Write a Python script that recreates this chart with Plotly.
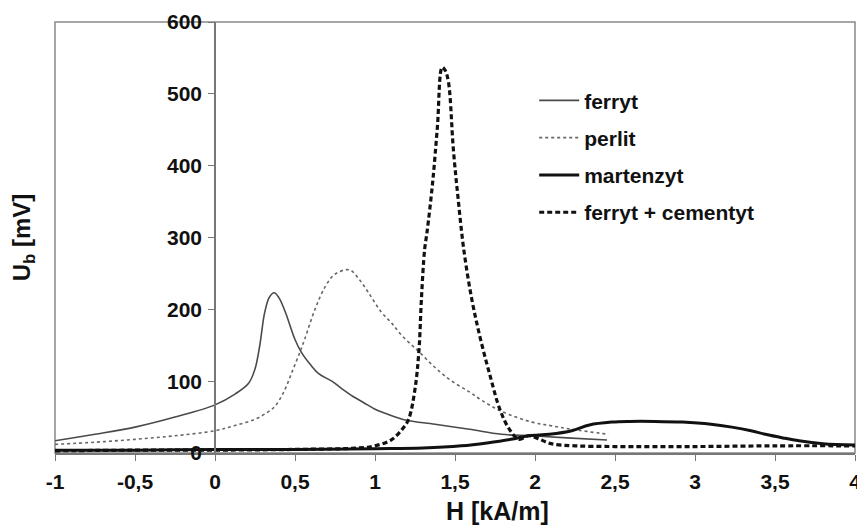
import plotly.graph_objects as go

# ---- data ----
x_ticks = [-1, -0.5, 0, 0.5, 1, 1.5, 2, 2.5, 3, 3.5, 4]
x_tick_labels = ["-1", "-0,5", "0", "0,5", "1", "1,5", "2", "2,5", "3", "3,5", "4"]
y_ticks = [0, 100, 200, 300, 400, 500, 600]

ferryt_x = [-1, -0.75, -0.5, -0.25, 0, 0.125, 0.21, 0.25, 0.28, 0.31, 0.34, 0.37, 0.4,
            0.44, 0.5, 0.54, 0.6, 0.65, 0.73, 0.79, 0.86, 0.93, 1.0, 1.08, 1.17, 1.21,
            1.375, 1.59, 1.79, 1.98, 2.2, 2.45]
ferryt_y = [17, 26, 36, 50, 67, 82, 97, 117, 150, 195, 217, 223, 216,
            196, 158, 140, 122, 110, 100, 90, 79, 70, 61, 54, 47, 45,
            40, 33, 26, 24, 21, 18]

perlit_x = [-1, -0.75, -0.5, -0.25, 0, 0.12, 0.25, 0.33, 0.375, 0.43, 0.48, 0.53, 0.56,
            0.625, 0.69, 0.75, 0.84, 0.9, 0.96, 1.04, 1.1, 1.17, 1.27, 1.375, 1.48,
            1.59, 1.67, 1.79, 1.98, 2.1, 2.23, 2.46]
perlit_y = [12, 15, 19, 24, 31, 38, 47, 57, 65, 85, 112, 140, 158,
            200, 232, 249, 255, 242, 223, 196, 182, 163, 142, 119, 100,
            85, 73, 58, 43, 38, 33, 26]

martenzyt_x = [-1, -0.5, 0, 0.5, 1.0, 1.3, 1.54, 1.7, 1.85, 1.96, 2.09, 2.23, 2.34,
               2.48, 2.59, 2.75, 2.92, 3.1, 3.23, 3.35, 3.44, 3.55, 3.65, 3.8, 4.0]
martenzyt_y = [4, 4, 5, 5, 6, 7, 10, 14, 19, 24, 26, 31, 39,
               43, 44, 44, 43, 40, 36, 31, 26, 21, 17, 13, 11]

fc_x = [-1, -0.5, 0, 0.5, 0.9, 1.0, 1.1, 1.17, 1.21, 1.25, 1.275, 1.29, 1.31, 1.325,
        1.36, 1.39, 1.42, 1.44, 1.46, 1.49, 1.52, 1.555, 1.605, 1.66, 1.72, 1.78,
        1.84, 1.9, 1.96, 2.02, 2.1, 2.25, 2.5, 3.0, 3.5, 4.0]
fc_y = [3, 4, 4, 5, 7, 10, 18, 33, 47, 89, 144, 214, 283, 307,
        376, 454, 537, 532, 515, 422, 353, 283, 214, 158, 107, 61,
        33, 19, 24, 20, 13, 10, 9, 9, 10, 10]

series_names = ["ferryt", "perlit", "martenzyt", "ferryt + cementyt"]

FONT = "Liberation Sans, Arial, sans-serif"
TXT = "#111111"

fig = go.Figure()
fig.add_trace(go.Scatter(x=ferryt_x, y=ferryt_y, mode="lines", name=series_names[0],
                         legendgroup="a", line=dict(color="#4a4a4a", width=1.6, shape="spline")))
fig.add_trace(go.Scatter(x=perlit_x, y=perlit_y, mode="lines", name=series_names[1],
                         legendgroup="b", line=dict(color="#666666", width=1.6, dash="dot", shape="spline")))
fig.add_trace(go.Scatter(x=martenzyt_x, y=martenzyt_y, mode="lines", name=series_names[2],
                         legendgroup="c", line=dict(color="#111111", width=3, shape="spline")))
fig.add_trace(go.Scatter(x=fc_x, y=fc_y, mode="lines", name=series_names[3],
                         legendgroup="d", line=dict(color="#111111", width=3.2, dash="5px,3px", shape="spline")))

# the page body has an 8px margin, so the figure is sized/offset to compensate
fig.update_layout(
    width=857, height=524,
    margin=dict(l=47, r=10, t=14, b=79, autoexpand=False),
    paper_bgcolor="white", plot_bgcolor="white",
    showlegend=True,
    legend=dict(x=0.599, y=0.865, xanchor="left", yanchor="top",
                bgcolor="rgba(0,0,0,0)", tracegroupgap=7, itemwidth=40,
                font=dict(family=FONT, size=21, color=TXT, weight="bold")),
    xaxis=dict(range=[-1, 4], tickvals=x_ticks, ticktext=x_tick_labels,
               automargin=False,
               showgrid=False, zeroline=False, showline=True, linecolor="#777777",
               linewidth=1.5, ticks="outside", ticklen=6, tickcolor="#777777",
               ticklabelstandoff=3,
               tickfont=dict(family=FONT, size=21, color=TXT, weight="bold")),
    yaxis=dict(range=[0, 600], tickvals=y_ticks, anchor="free", position=0.2,
               automargin=False,
               showgrid=False, zeroline=False, showline=True, linecolor="#777777",
               linewidth=1.5, ticks="outside", ticklen=6, tickcolor="#777777",
               ticklabelstandoff=2,
               tickfont=dict(family=FONT, size=21, color=TXT, weight="bold")),
    shapes=[dict(type="rect", xref="paper", yref="paper", x0=0, x1=1, y0=0, y1=1,
                 line=dict(color="#888888", width=1.5), layer="below")],
    annotations=[
        dict(text="H [kA/m]", xref="paper", yref="paper", x=0.5525, y=-0.135,
             xanchor="center", yanchor="middle", showarrow=False,
             font=dict(family=FONT, size=25, color=TXT, weight="bold")),
        dict(text="U<sub>b</sub> [mV]", xref="paper", yref="paper", x=-0.039, y=0.5,
             xanchor="center", yanchor="middle", textangle=-90, showarrow=False,
             font=dict(family=FONT, size=24, color=TXT, weight="bold")),
    ],
)

fig.write_html("out.html")
